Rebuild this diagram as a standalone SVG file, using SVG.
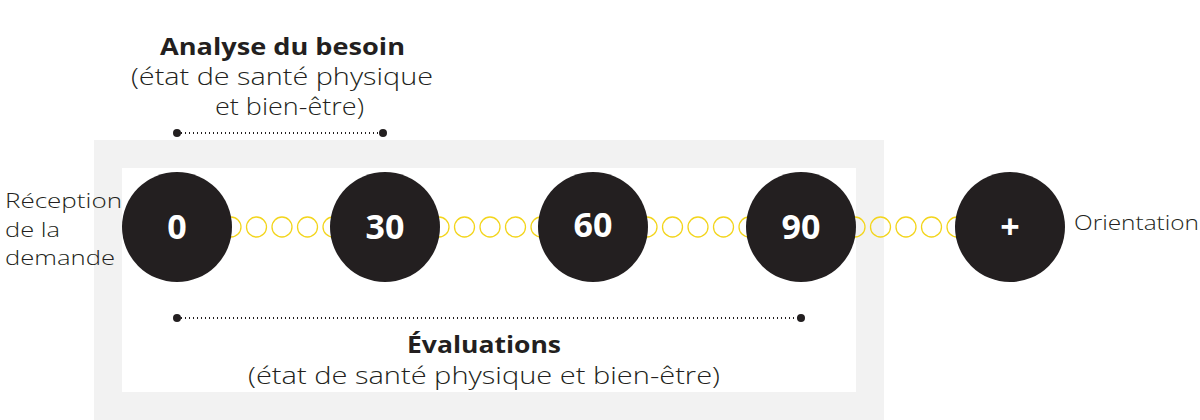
<svg xmlns="http://www.w3.org/2000/svg" width="1200" height="420" viewBox="0 0 1200 420">
<style>
text{font-family:"Open Sans","Lato","Liberation Sans",sans-serif;fill:#231f20}
.lbl{font-size:20px;font-weight:300}
.ttl{font-size:23px;font-weight:700}
.sub{font-size:23px;font-weight:300}
.num{font-size:34px;font-weight:700;fill:#ffffff;text-anchor:middle}
.big{fill:#231f20}
.ring{fill:none;stroke:#f3d51c;stroke-width:1.3}
.dot{fill:#231f20}
.dl{stroke:#231f20;stroke-width:2;stroke-dasharray:1 3}
</style>
<defs>
<g id="chain">
<circle class="ring" cx="54" cy="0" r="10"/>
<circle class="ring" cx="79.5" cy="0" r="10"/>
<circle class="ring" cx="105" cy="0" r="10"/>
<circle class="ring" cx="130.5" cy="0" r="10"/>
<circle class="ring" cx="156" cy="0" r="10"/>
</g>
</defs>
<rect x="94" y="140" width="790" height="280" fill="#f2f2f2"/>
<rect x="122" y="168" width="734" height="224" fill="#ffffff"/>
<g id="connectors">
<use href="#chain" x="177" y="227"/>
<use href="#chain" x="385" y="227"/>
<use href="#chain" x="593" y="227"/>
<use href="#chain" x="801" y="227"/>
</g>
<g id="node-0"><circle class="big" cx="177" cy="227" r="55"/><text class="num" x="177" y="239">0</text></g>
<g id="node-30"><circle class="big" cx="385" cy="227" r="55"/><text class="num" x="385" y="239">30</text></g>
<g id="node-60"><circle class="big" cx="593" cy="227" r="55"/><text class="num" x="593" y="237">60</text></g>
<g id="node-90"><circle class="big" cx="801" cy="227" r="55"/><text class="num" x="801" y="239">90</text></g>
<g id="node-plus"><circle class="big" cx="1010" cy="227" r="55"/><text class="num" x="1010" y="239">+</text></g>
<g id="reception"><text class="lbl" x="5" y="208" textLength="117" lengthAdjust="spacingAndGlyphs">Réception</text><text class="lbl" x="5" y="237" textLength="55" lengthAdjust="spacingAndGlyphs">de la</text><text class="lbl" x="5" y="265" textLength="110" lengthAdjust="spacingAndGlyphs">demande</text></g>
<g id="orientation"><text class="lbl" x="1074" y="230" textLength="125" lengthAdjust="spacingAndGlyphs">Orientation</text></g>
<g id="analyse">
<text class="ttl" x="160" y="55" textLength="245" lengthAdjust="spacingAndGlyphs">Analyse du besoin</text>
<text class="sub" x="131" y="85" textLength="302" lengthAdjust="spacingAndGlyphs">(état de santé physique</text>
<text class="sub" x="215" y="115" textLength="149" lengthAdjust="spacingAndGlyphs">et bien-être)</text>
<line class="dl" x1="181" y1="133" x2="381" y2="133"/>
<circle class="dot" cx="177" cy="133" r="4"/><circle class="dot" cx="383" cy="133" r="4"/>
</g>
<g id="evaluations">
<line class="dl" x1="181" y1="318" x2="799" y2="318"/>
<circle class="dot" cx="177" cy="318" r="4"/><circle class="dot" cx="801" cy="318" r="4"/>
<text class="ttl" x="407" y="353" textLength="154" lengthAdjust="spacingAndGlyphs">Évaluations</text>
<text class="sub" x="248" y="384" textLength="472" lengthAdjust="spacingAndGlyphs">(état de santé physique et bien-être)</text>
</g>
</svg>
